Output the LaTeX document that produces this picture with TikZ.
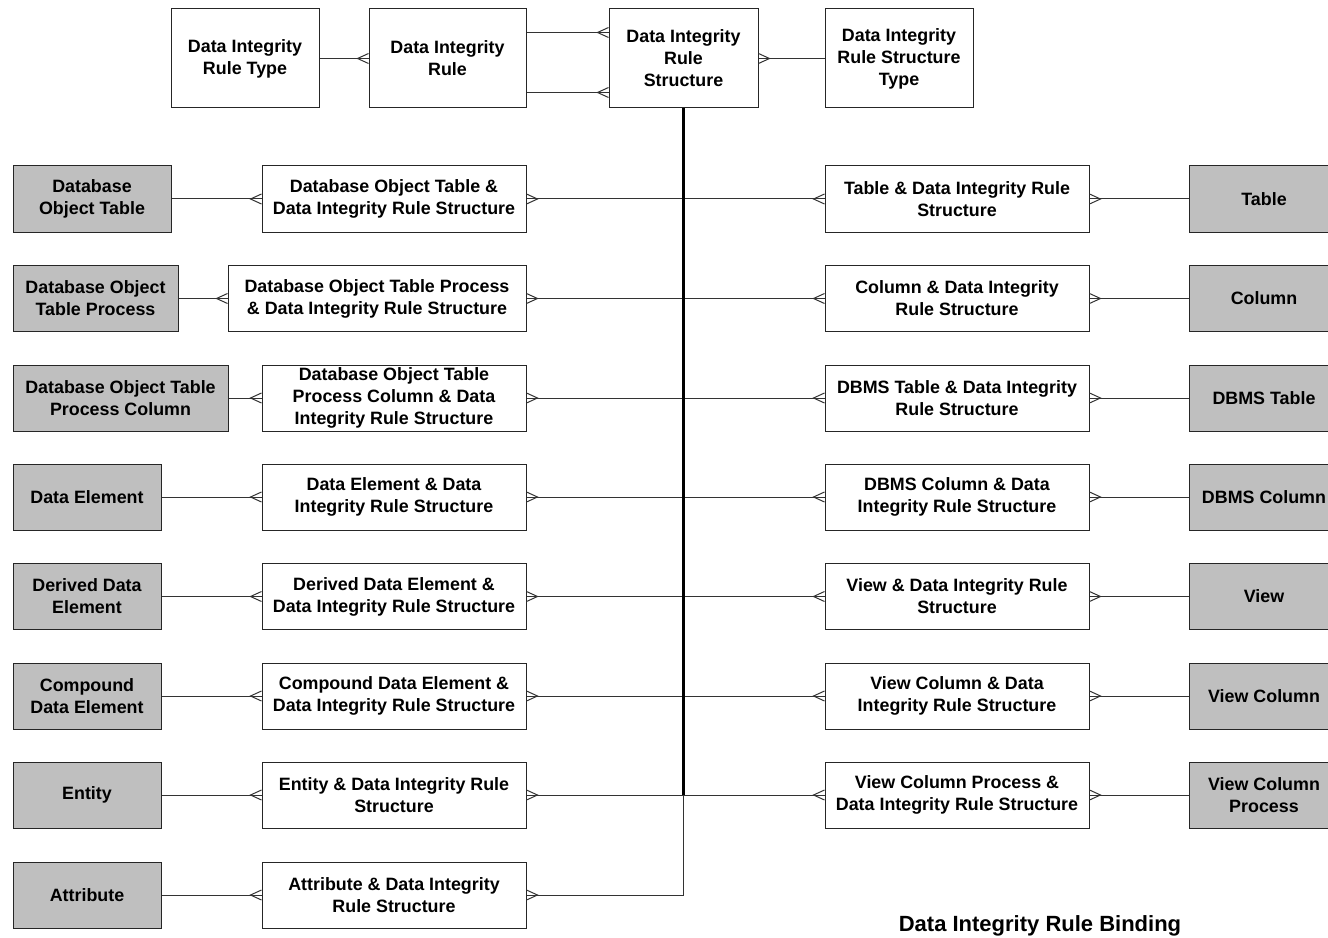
\documentclass[tikz,border=0pt]{standalone}
\usepackage{fontspec}
\setmainfont{Liberation Sans}
\usetikzlibrary{calc}

\tikzset{
  ent/.style={draw=black!85, line width=0.75pt, inner sep=0pt, align=center,
    font=\bfseries\fontsize{13.4}{16.5}\selectfont},
  kernel/.style={ent, fill=white},
  refent/.style={ent, fill=black!25},
  conn/.style={draw=black!80, line width=0.75pt},
  trunk/.style={draw=black, line width=1.6pt},
}

% entity box: style, name, centre x, centre y, width, height (all in px), text
\newcommand\ent[7]{%
  \node[#1, minimum width=#5*0.75pt, minimum height=#6*0.75pt] (#2) at (#3,#4) {#7};}
% crow's foot on the west / east side of a box edge point
\newcommand\crowW[1]{%
  \draw[conn] ($(#1)+(0,-5)$) -- ($(#1)+(-11,0)$) -- ($(#1)+(0,5)$);}
\newcommand\crowE[1]{%
  \draw[conn] ($(#1)+(0,-5)$) -- ($(#1)+(11,0)$) -- ($(#1)+(0,5)$);}

\begin{document}
\begin{tikzpicture}[x=0.75pt, y=-0.75pt]
\useasboundingbox (0,0) rectangle (1328,938);
\clip (0,0) rectangle (1328,938);
\fill[white] (0,0) rectangle (1328,938);

% top row
\ent{kernel}{dirt}{245}{58.5}{148}{99}{Data Integrity\\Rule Type}
\ent{kernel}{dir}{447.5}{58.5}{157}{99}{Data Integrity\\Rule}
\ent{kernel}{dirs}{683.5}{58.5}{149}{99}{Data Integrity\\Rule\\Structure}
\ent{kernel}{dirst}{899}{58.5}{148}{99}{Data Integrity\\Rule Structure\\Type}

\draw[conn] (dirt.east) -- (dir.west);
\crowW{dir.west}
\coordinate (ra) at ($(dirs.north west)+(0,24)$);
\coordinate (rb) at ($(dirs.south west)+(0,-16)$);
\draw[conn] (dir.east |- ra) -- (ra);
\draw[conn] (dir.east |- rb) -- (rb);
\crowW{ra}
\crowW{rb}
\draw[conn] (dirs.east) -- (dirst.west);
\crowE{dirs.east}

% left column: referenced entities and binding entities
\ent{refent}{lg1}{92}{199}{158}{66}{Database\\Object Table}
\ent{refent}{lg2}{95.5}{298.5}{165}{66}{Database Object\\Table Process}
\ent{refent}{lg3}{120.5}{398}{215}{66}{Database Object Table\\Process Column}
\ent{refent}{lg4}{87}{497}{148}{66}{Data Element}
\ent{refent}{lg5}{87}{596.5}{148}{66}{Derived Data\\Element}
\ent{refent}{lg6}{87}{696}{148}{66}{Compound\\Data Element}
\ent{refent}{lg7}{87}{795}{148}{66}{Entity}
\ent{refent}{lg8}{87}{895}{148}{66}{Attribute}

\ent{kernel}{lw1}{394}{199}{264}{66}{Database Object Table \&\\Data Integrity Rule Structure}
\ent{kernel}{lw2}{377}{298.5}{298}{66}{Database Object Table Process\\\& Data Integrity Rule Structure}
\ent{kernel}{lw3}{394}{398}{264}{66}{Database Object Table\\Process Column \& Data\\Integrity Rule Structure}
\ent{kernel}{lw4}{394}{497}{264}{66}{Data Element \& Data\\Integrity Rule Structure}
\ent{kernel}{lw5}{394}{596.5}{264}{66}{Derived Data Element \&\\Data Integrity Rule Structure}
\ent{kernel}{lw6}{394}{696}{264}{66}{Compound Data Element \&\\Data Integrity Rule Structure}
\ent{kernel}{lw7}{394}{795}{264}{66}{Entity \& Data Integrity Rule\\Structure}
\ent{kernel}{lw8}{394}{895}{264}{66}{Attribute \& Data Integrity\\Rule Structure}

% right column: binding entities and referenced entities
\ent{kernel}{rw1}{957}{199}{264}{66}{Table \& Data Integrity Rule\\Structure}
\ent{kernel}{rw2}{957}{298.5}{264}{66}{Column \& Data Integrity\\Rule Structure}
\ent{kernel}{rw3}{957}{398}{264}{66}{DBMS Table \& Data Integrity\\Rule Structure}
\ent{kernel}{rw4}{957}{497}{264}{66}{DBMS Column \& Data\\Integrity Rule Structure}
\ent{kernel}{rw5}{957}{596.5}{264}{66}{View \& Data Integrity Rule\\Structure}
\ent{kernel}{rw6}{957}{696}{264}{66}{View Column \& Data\\Integrity Rule Structure}
\ent{kernel}{rw7}{957}{795}{264}{66}{View Column Process \&\\Data Integrity Rule Structure}

\ent{refent}{rg1}{1264}{199}{150}{66}{Table}
\ent{refent}{rg2}{1264}{298.5}{150}{66}{Column}
\ent{refent}{rg3}{1264}{398}{150}{66}{DBMS Table}
\ent{refent}{rg4}{1264}{497}{150}{66}{DBMS Column}
\ent{refent}{rg5}{1264}{596.5}{150}{66}{View}
\ent{refent}{rg6}{1264}{696}{150}{66}{View Column}
\ent{refent}{rg7}{1264}{795}{150}{66}{View Column\\Process}

% connectors of the left column
\foreach \i in {1,...,8}{
  \draw[conn] (lg\i.east) -- (lw\i.west);
  \crowW{lw\i.west}
  \draw[conn] (dirs.south) |- (lw\i.east);
  \crowE{lw\i.east}
}
% connectors of the right column
\foreach \i in {1,...,7}{
  \draw[conn] (dirs.south) |- (rw\i.west);
  \crowW{rw\i.west}
  \draw[conn] (rw\i.east) -- (rg\i.west);
  \crowE{rw\i.east}
}
% shared stem below the structure entity
\draw[trunk] (dirs.south) -- (dirs.south |- lw7.east);

\node[font=\bfseries\fontsize{16.5}{19}\selectfont] (title) at (1040,926) {Data Integrity Rule Binding};
\end{tikzpicture}
\end{document}
